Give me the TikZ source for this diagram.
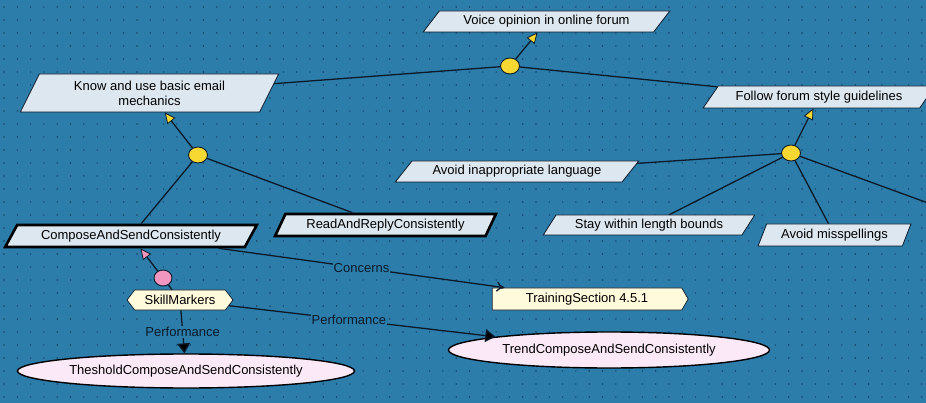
\documentclass[tikz,border=0pt]{standalone}
\usepackage{fontspec}
\setmainfont{Liberation Sans}
\usetikzlibrary{shapes.geometric,shapes.symbols,arrows.meta}

\definecolor{board}{RGB}{44,125,170}
\definecolor{griddot}{RGB}{22,66,104}
\definecolor{edgeline}{RGB}{12,26,42}
\definecolor{goalfill}{RGB}{221,231,239}
\definecolor{andyellow}{RGB}{247,216,50}
\definecolor{markpink}{RGB}{242,150,192}
\definecolor{notefill}{RGB}{255,250,220}
\definecolor{ovalfill}{RGB}{251,233,247}

\tikzset{
  txt/.style={font=\fontsize{13}{15}\selectfont},
  goal/.style={txt, trapezium, trapezium stretches=true, draw=edgeline,
    fill=goalfill, line width=0.8pt, inner sep=0pt, align=center},
  skillgoal/.style={goal, draw=black, line width=2.6pt},
  andnode/.style={ellipse, draw=edgeline, fill=andyellow, line width=0.9pt,
    minimum width=19pt, minimum height=16pt, inner sep=0pt},
  marknode/.style={andnode, fill=markpink, minimum width=18pt, minimum height=16pt},
  note/.style={txt, signal, draw=edgeline, fill=notefill, line width=0.7pt, inner sep=0pt},
  oval/.style={txt, ellipse, draw=black, fill=ovalfill, line width=1.4pt, inner sep=0pt},
  link/.style={draw=edgeline, line width=1.3pt},
  lbl/.style={txt, fill=board, inner sep=1pt, text=edgeline},
  upgoal/.style={-{Triangle[fill=andyellow, length=11pt, width=10pt, line width=0.8pt]}},
  upmark/.style={-{Triangle[fill=markpink, length=11pt, width=10pt, line width=0.8pt]}},
  perf/.style={-{Triangle[length=10pt, width=13pt]}}
}

\begin{document}
\begin{tikzpicture}[x=1pt, y=-1pt]
    \useasboundingbox (0,0) rectangle (926,403);
    \clip (0,0) rectangle (926,403);
    \fill[board] (0,0) rectangle (926,403);
    \foreach \i in {0,...,69}
        \foreach \j in {0,...,30}
            \fill[griddot] (4+13.3*\i, 7+13*\j) circle (0.8pt);

    % goals
    \node[goal, trapezium left angle=44, trapezium right angle=136,
        minimum width=247pt, minimum height=21pt] (voice) at (546.5,21.5) {Voice opinion in online forum};
    \node[goal, trapezium left angle=62, trapezium right angle=118,
        minimum width=259pt, minimum height=38pt] (know) at (149.5,93) {Know and use basic email\\mechanics};
    \node[goal, trapezium left angle=44, trapezium right angle=136,
        minimum width=232pt, minimum height=22pt] (follow) at (819,97) {Follow forum style guidelines};
    \node[goal, trapezium left angle=42, trapezium right angle=138,
        minimum width=244pt, minimum height=21pt] (language) at (517,171.5) {Avoid inappropriate language};
    \node[goal, trapezium left angle=50, trapezium right angle=130,
        minimum width=212pt, minimum height=20pt] (length) at (649,225) {Stay within length bounds};
    \node[goal, trapezium left angle=61, trapezium right angle=119,
        minimum width=153pt, minimum height=22pt] (spelling) at (834.5,235) {Avoid misspellings};
    \node[skillgoal, trapezium left angle=52, trapezium right angle=128,
        minimum width=252pt, minimum height=22pt] (compose) at (131,236) {ComposeAndSendConsistently};
    \node[skillgoal, trapezium left angle=56, trapezium right angle=124,
        minimum width=221pt, minimum height=22pt] (reply) at (385.5,225) {ReadAndReplyConsistently};

    % and-points
    \node[andnode] (andtop) at (510,66) {};
    \node[andnode] (andleft) at (198,155) {};
    \node[andnode] (andright) at (791,153) {};
    \coordinate (offedge) at (980,222);

    % markers
    \node[marknode] (mark) at (163,278) {};
    \node[note, signal to=east and west, signal pointer angle=105,
        minimum width=106pt, minimum height=20pt] (skill) at (180,300) {SkillMarkers};
    \node[note, signal pointer angle=120,
        minimum width=196pt, minimum height=22pt] (training) at (587,299) {TrainingSection 4.5.1};
    \node[oval, minimum width=337pt, minimum height=34pt] (threshold) at (186,371) {ThesholdComposeAndSendConsistently};
    \node[oval, minimum width=321pt, minimum height=36pt] (trend) at (609,350) {TrendComposeAndSendConsistently};

    \path[link] (andtop) edge[upgoal] (voice);
    \path[link] (know) edge (andtop);
    \path[link] (andtop) edge (follow);
    \path[link] (andright) edge[upgoal] (follow);
    \path[link] (language) edge (andright);
    \path[link] (andright) edge (length);
    \path[link] (andright) edge (spelling);
    \path[link] (andright) edge (offedge);
    \path[link] (andleft) edge[upgoal] (know);
    \path[link] (andleft) edge (compose);
    \path[link] (andleft) edge (reply);
    \path[link] (mark) edge[upmark] (compose);
    \path[link] (skill) edge (mark);

    \path[link] (compose.-8) edge[-{To[length=8pt, width=10pt]}]
        node[lbl] {Concerns} (training);
    \path[link] (skill) edge[perf] node[lbl] {Performance} (threshold);
    \path[link] (skill) edge[perf] node[lbl, pos=0.45] {Performance} (trend);
\end{tikzpicture}
\end{document}
